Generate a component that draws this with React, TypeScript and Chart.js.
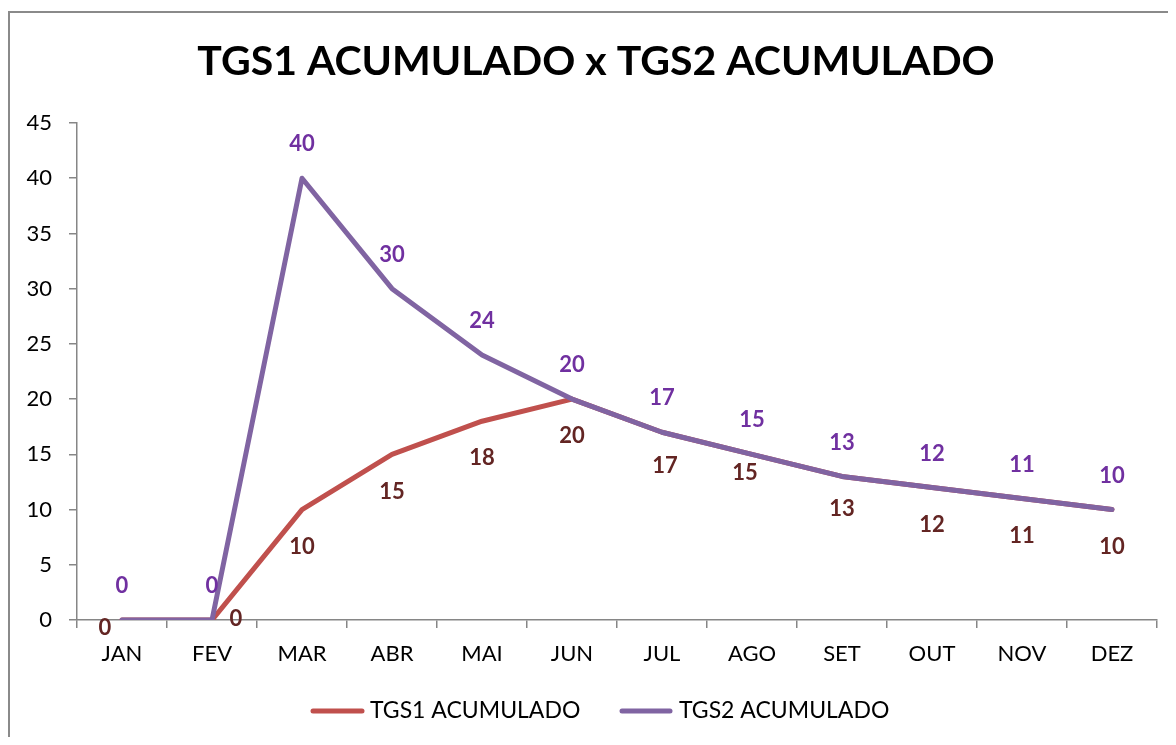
import React, { useEffect, useRef } from "react";
import { Chart, registerables } from "chart.js";

Chart.register(...registerables);

const TITLE = "TGS1 ACUMULADO x TGS2 ACUMULADO";
const MONTHS = ["JAN", "FEV", "MAR", "ABR", "MAI", "JUN", "JUL", "AGO", "SET", "OUT", "NOV", "DEZ"];
const TGS1_NAME = "TGS1 ACUMULADO";
const TGS2_NAME = "TGS2 ACUMULADO";
const TGS1 = [0, 0, 10, 15, 18, 20, 17, 15, 13, 12, 11, 10];
const TGS2 = [0, 0, 40, 30, 24, 20, 17, 15, 13, 12, 11, 10];
const Y_MIN = 0;
const Y_MAX = 45;
const Y_STEP = 5;

const FONT = "Lato, Carlito, Calibri, sans-serif";
const RED = "#C0504D";
const PURPLE = "#8064A2";
const RED_LABEL = "#632523";
const PURPLE_LABEL = "#7030A0";
const AXIS = "#868686";

// label placement offsets (style only), px relative to point
const TGS1_LABEL_OFFSETS: [number, number][] = [
  [-17, 8], [24, -1], [0, 37], [0, 38], [0, 37], [0, 37],
  [3, 34], [-7, 19], [0, 32], [0, 37], [0, 37], [0, 37],
];
const TGS2_LABEL_OFFSETS: [number, number][] = MONTHS.map(() => [0, -34]);

const W = 1160;
const H = 729;

const decorPlugin = {
  id: "decor",
  afterDatasetsDraw(chart: any) {
    const ctx = chart.ctx;
    ctx.save();
    ctx.textAlign = "center";
    ctx.textBaseline = "middle";
    ctx.font = `bold 22px ${FONT}`;
    const sets = [
      { idx: 0, offs: TGS1_LABEL_OFFSETS, color: RED_LABEL, vals: TGS1 },
      { idx: 1, offs: TGS2_LABEL_OFFSETS, color: PURPLE_LABEL, vals: TGS2 },
    ];
    for (const s of sets) {
      const meta = chart.getDatasetMeta(s.idx);
      ctx.fillStyle = s.color;
      meta.data.forEach((pt: any, i: number) => {
        const [dx, dy] = s.offs[i];
        ctx.fillText(String(s.vals[i]), pt.x + dx, pt.y + dy);
      });
    }
    ctx.restore();
  },
  afterDraw(chart: any) {
    const ctx = chart.ctx;
    ctx.save();
    // title
    ctx.fillStyle = "#000";
    ctx.textAlign = "center";
    ctx.textBaseline = "middle";
    ctx.font = `bold 41px ${FONT}`;
    ctx.fillText(TITLE, 588, 54);
    // legend
    const items = [
      { x1: 305, x2: 354, tx: 362, color: RED, name: TGS1_NAME },
      { x1: 614, x2: 662, tx: 671, color: PURPLE, name: TGS2_NAME },
    ];
    ctx.font = `23px ${FONT}`;
    ctx.textAlign = "left";
    for (const it of items) {
      ctx.strokeStyle = it.color;
      ctx.lineWidth = 5;
      ctx.lineCap = "round";
      ctx.beginPath();
      ctx.moveTo(it.x1, 703);
      ctx.lineTo(it.x2, 703);
      ctx.stroke();
      ctx.fillStyle = "#000";
      ctx.fillText(it.name, it.tx, 703);
    }
    ctx.restore();
  },
};

export default function App() {
  const ref = useRef<HTMLCanvasElement | null>(null);
  useEffect(() => {
    if (!ref.current) return;
    const chart = new Chart(ref.current, {
      type: "line",
      data: {
        labels: MONTHS,
        datasets: [
          {
            label: TGS1_NAME,
            data: TGS1,
            order: 2,
            borderColor: RED,
            backgroundColor: RED,
            borderWidth: 5,
            pointRadius: 0,
            borderJoinStyle: "round",
            borderCapStyle: "round",
            tension: 0,
          },
          {
            label: TGS2_NAME,
            data: TGS2,
            order: 1,
            borderColor: PURPLE,
            backgroundColor: PURPLE,
            borderWidth: 5,
            pointRadius: 0,
            borderJoinStyle: "round",
            borderCapStyle: "round",
            tension: 0,
          },
        ],
      },
      options: {
        responsive: false,
        animation: false,
        devicePixelRatio: 1,
        layout: { padding: { left: 9, right: 11, top: 115, bottom: 0 } },
        plugins: {
          legend: { display: false },
          title: { display: false },
          tooltip: { enabled: false },
        },
        scales: {
          x: {
            offset: true,
            afterFit: (s: any) => { s.height = 117; },
            grid: {
              offset: true,
              drawOnChartArea: false,
              drawTicks: true,
              tickLength: 8,
              color: AXIS,
              lineWidth: 1.5,
            },
            border: { display: true, color: AXIS, width: 1.5 },
            ticks: {
              color: "#000",
              font: { family: FONT, size: 22 },
              padding: 13,
              maxRotation: 0,
            },
          },
          y: {
            min: Y_MIN,
            max: Y_MAX,
            afterFit: (s: any) => { s.width = 60; },
            grid: {
              drawOnChartArea: false,
              drawTicks: true,
              tickLength: 8,
              color: AXIS,
              lineWidth: 1.5,
            },
            border: { display: true, color: AXIS, width: 1.5 },
            ticks: {
              stepSize: Y_STEP,
              color: "#000",
              font: { family: FONT, size: 22 },
              padding: 17,
            },
          },
        },
      },
      plugins: [decorPlugin],
    });
    return () => chart.destroy();
  }, []);

  return (
    <div style={{ position: "relative", width: W, height: H, overflow: "hidden" }}>
      <div
        style={{
          position: "absolute",
          left: 0,
          top: 3,
          width: W + 10,
          height: H + 10,
          borderLeft: "2px solid #8a8a8a",
          borderTop: "2px solid #8a8a8a",
          boxSizing: "border-box",
        }}
      />
      <canvas ref={ref} width={W} height={H} style={{ position: "absolute", left: 0, top: 0, width: W, height: H }} />
    </div>
  );
}
